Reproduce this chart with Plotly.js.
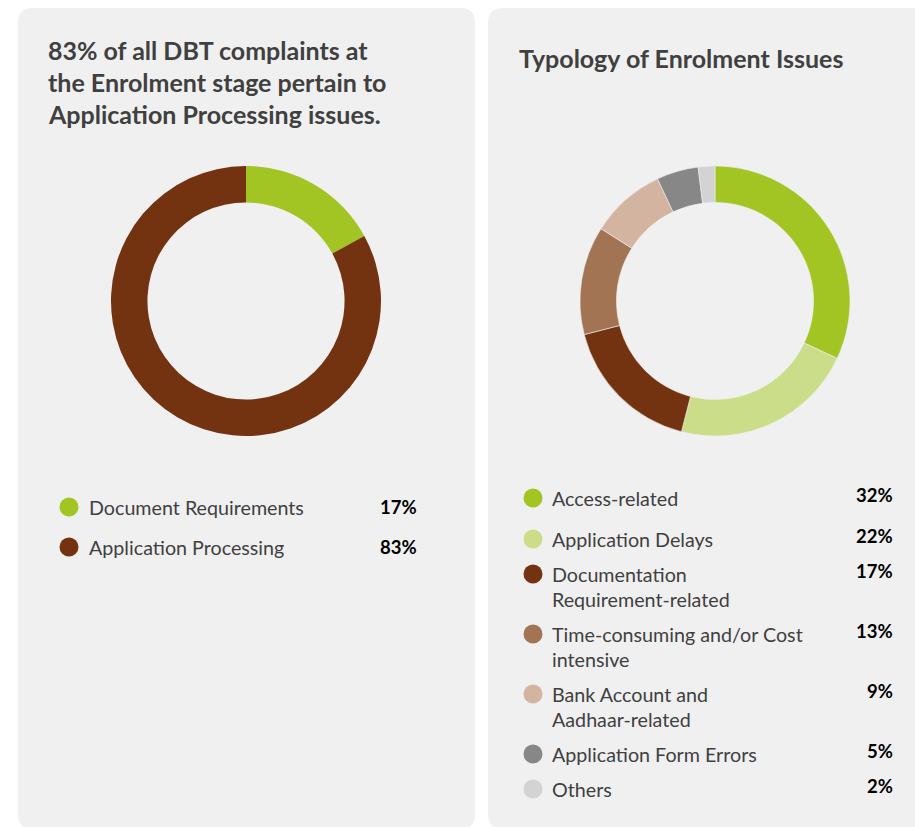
<!DOCTYPE html>
<html>
<head>
<meta charset="utf-8">
<script src="https://cdn.plot.ly/plotly-3.0.1.min.js"></script>
<style>
  html, body { margin: 0; padding: 0; background: #ffffff; }
  #chart { width: 915px; height: 827px; }
</style>
</head>
<body>
<div id="chart"></div>
<script>
// ---- Data ----
const leftTitleLines = ['83% of all DBT complaints at', 'the Enrolment stage pertain to', 'Application Processing issues.'];
const leftLabels = ['Document Requirements', 'Application Processing'];
const leftValues = [17, 83];
const leftColors = ['#a2c523', '#733210'];

const rightTitle = 'Typology of Enrolment Issues';
const rightLabels = [
  'Access-related',
  'Application Delays',
  'Documentation\nRequirement-related',
  'Time-consuming and/or Cost\nintensive',
  'Bank Account and\nAadhaar-related',
  'Application Form Errors',
  'Others'
];
const rightValues = [32, 22, 17, 13, 9, 5, 2];
const rightColors = ['#a2c523', '#cbdd88', '#733210', '#a37454', '#d2b4a0', '#878787', '#d3d3d3'];

// ---- Layout helpers (pixel -> paper) ----
const W = 915, H = 827;
const X = x => x / W;
const Y = y => 1 - y / H;
const FONT = 'Lato, "Open Sans", sans-serif';
const LEG_SIZE = 19.7;
const PCT_SIZE = 18.5;
const TITLE_SIZE = 25;

function roundRect(x0, y0, x1, y1, r) {
  return `M ${X(x0 + r)},${Y(y0)} L ${X(x1 - r)},${Y(y0)} Q ${X(x1)},${Y(y0)} ${X(x1)},${Y(y0 + r)} ` +
         `L ${X(x1)},${Y(y1 - r)} Q ${X(x1)},${Y(y1)} ${X(x1 - r)},${Y(y1)} ` +
         `L ${X(x0 + r)},${Y(y1)} Q ${X(x0)},${Y(y1)} ${X(x0)},${Y(y1 - r)} ` +
         `L ${X(x0)},${Y(y0 + r)} Q ${X(x0)},${Y(y0)} ${X(x0 + r)},${Y(y0)} Z`;
}

const shapes = [
  { type: 'path', xref: 'paper', yref: 'paper', path: roundRect(18, 8, 475, 829, 15),
    fillcolor: '#f0f0f0', line: { width: 0 }, layer: 'below' },
  { type: 'path', xref: 'paper', yref: 'paper', path: roundRect(488, 8, 935, 829, 15),
    fillcolor: '#f0f0f0', line: { width: 0 }, layer: 'below' }
];
const annotations = [];

function text(x, y, t, opts) {
  annotations.push(Object.assign({
    xref: 'paper', yref: 'paper', x: X(x), y: Y(y), text: t, showarrow: false,
    xanchor: 'left', yanchor: 'middle',
    font: { family: FONT, size: LEG_SIZE, color: '#404040' }
  }, opts || {}));
}
function dot(cx, cy, d, color) {
  shapes.push({ type: 'circle', xref: 'paper', yref: 'paper',
    x0: X(cx - d / 2), x1: X(cx + d / 2), y0: Y(cy + d / 2), y1: Y(cy - d / 2),
    fillcolor: color, line: { width: 0 } });
}

// Titles
const leftTitleY = [50, 82, 114];
leftTitleLines.forEach((t, i) => text(46, leftTitleY[i], '<b>' + t + '</b>',
  { font: { family: FONT, size: TITLE_SIZE, color: '#404040' } }));
text(517, 58, '<b>' + rightTitle + '</b>', { font: { family: FONT, size: TITLE_SIZE, color: '#404040' } });

// Left legend
const leftRowY = [507, 547];
leftLabels.forEach((lab, i) => {
  dot(69, leftRowY[i], 19, leftColors[i]);
  text(87, leftRowY[i], lab);
  text(419, leftRowY[i], '<b>' + leftValues[i] + '%</b>', { xanchor: 'right', font: { family: FONT, size: PCT_SIZE, color: '#000000' } });
});

// Right legend
const rightRowY = [498, 539, 574, 634, 694, 754, 789];
rightLabels.forEach((lab, i) => {
  dot(533, rightRowY[i], 19, rightColors[i]);
  lab.split('\n').forEach((line, j) => text(550, rightRowY[i] + j * 25, line));
  text(895, rightRowY[i] - 3, '<b>' + rightValues[i] + '%</b>', { xanchor: 'right', font: { family: FONT, size: PCT_SIZE, color: '#000000' } });
});

const pieCommon = {
  type: 'pie', hole: 0.73, sort: false, direction: 'clockwise', rotation: 0,
  textinfo: 'none', showlegend: false, hoverinfo: 'label+percent'
};

const data = [
  Object.assign({}, pieCommon, {
    labels: leftLabels, values: leftValues,
    marker: { colors: leftColors, line: { width: 0 } },
    domain: { x: [X(111), X(381)], y: [Y(436), Y(166)] }
  }),
  Object.assign({}, pieCommon, {
    labels: rightLabels.map(l => l.replace('\n', ' ')), values: rightValues,
    marker: { colors: rightColors, line: { width: 0.6, color: '#f0f0f0' } },
    domain: { x: [X(580), X(850)], y: [Y(436), Y(166)] }
  })
];

const layout = {
  width: W, height: H,
  margin: { l: 0, r: 0, t: 0, b: 0 },
  paper_bgcolor: '#ffffff', plot_bgcolor: '#ffffff',
  showlegend: false,
  shapes: shapes,
  annotations: annotations,
  font: { family: FONT }
};

Plotly.newPlot('chart', data, layout, { displayModeBar: false, staticPlot: true });
</script>
</body>
</html>
